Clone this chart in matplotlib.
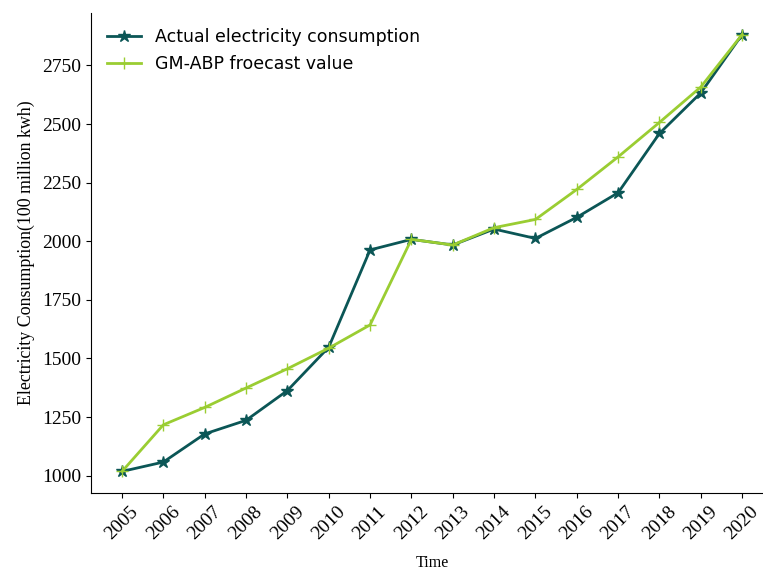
import numpy as np
import matplotlib
matplotlib.use("Agg")
import matplotlib.pyplot as plt

years = [2005, 2006, 2007, 2008, 2009, 2010, 2011, 2012,
         2013, 2014, 2015, 2016, 2017, 2018, 2019, 2020]
actual = [1018, 1058, 1178, 1236, 1363, 1548, 1963, 2008,
          1984, 2052, 2012, 2102, 2207, 2460, 2633, 2882]
gm_abp = [1018, 1217, 1291, 1374, 1456, 1544, 1643, 2008,
          1984, 2058, 2093, 2221, 2360, 2507, 2658, 2882]

fig = plt.figure(figsize=(7.63, 5.70), dpi=100)
ax = fig.add_axes([0.1193, 0.1346, 0.894, 0.8432])

ax.plot(years, actual, color='#0b5656', marker='*', markersize=9, linewidth=2,
        label='Actual electricity consumption')
ax.plot(years, gm_abp, color='#9ACD32', marker='+', markersize=9, linewidth=2,
        label='GM-ABP froecast value')

ax.spines['top'].set_visible(False)
ax.spines['right'].set_visible(False)
ax.set_xticks(years)
ax.set_xticklabels([str(y) for y in years], rotation=45, family='Liberation Serif', fontsize=14)
ax.set_yticks([1000, 1250, 1500, 1750, 2000, 2250, 2500, 2750])
for lab in ax.get_yticklabels():
    lab.set_family('Liberation Serif')
    lab.set_fontsize(14)

ax.set_xlabel('Time', family='Liberation Serif', fontsize=11.5, labelpad=9)
ax.set_ylabel('Electricity Consumption(100 million kwh)', family='Liberation Serif',
              fontsize=12.9, labelpad=5)

ax.legend(loc='upper left', frameon=False, fontsize=12.5)

fig.savefig('out.png', dpi=100)
